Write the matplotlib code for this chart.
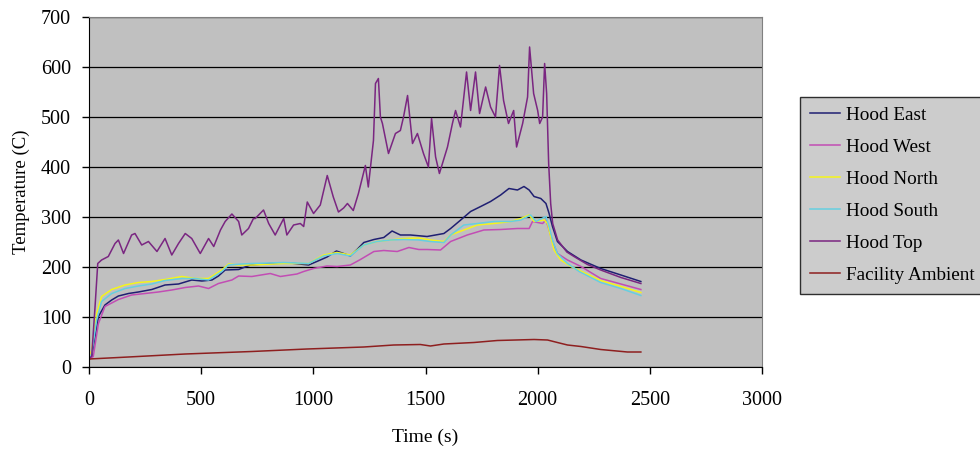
import matplotlib
matplotlib.use('Agg')
import matplotlib.pyplot as plt

plt.rcParams['font.family'] = ['Liberation Serif', 'DejaVu Serif']

# time / temperature pairs
t_east = [0, 12, 27, 42, 71, 101, 131, 176, 220, 280, 339, 399, 458, 503, 548, 577, 607, 667, 719, 808, 897, 979,
          1031, 1061, 1103, 1135, 1165, 1195, 1225, 1270, 1314, 1351, 1388, 1433, 1507, 1582, 1612, 1657, 1701, 1746,
          1790, 1835, 1872, 1910, 1939, 1962, 1984, 2014, 2037, 2051, 2066, 2088, 2133, 2193, 2281, 2371, 2460]
y_east = [15, 21, 61, 101, 124, 134, 142, 147, 150, 155, 164, 166, 174, 172, 174, 182, 194, 195, 204, 207, 208, 204,
          214, 220, 232, 227, 222, 235, 249, 255, 259, 272, 264, 264, 261, 267, 277, 294, 311, 321,
          331, 344, 357, 354, 361, 354, 341, 337, 327, 307, 281, 251, 231, 214, 197, 184, 171]

t_west = [0, 19, 42, 71, 131, 190, 250, 309, 369, 429, 488, 533, 577, 637, 667, 726, 808, 853, 927, 957, 1001, 1061,
          1106, 1165, 1210, 1270, 1314, 1374, 1426, 1470, 1507, 1567, 1612, 1686, 1760, 1835, 1910, 1962, 1977, 2022,
          2037, 2051, 2066, 2088, 2133, 2193, 2281, 2371, 2460]
y_west = [15, 21, 87, 121, 135, 144, 147, 150, 154, 159, 162, 157, 167, 174, 182, 181, 187, 181, 186, 191, 197, 202,
          201, 204, 215, 231, 233, 231, 239, 235, 235, 234, 251, 264, 274, 275, 277, 277, 291, 287,
          294, 274, 251, 227, 214, 201, 177, 166, 155]

t_north = [0, 12, 34, 56, 101, 161, 220, 280, 339, 414, 473, 533, 592, 622, 667, 726, 868, 979, 1046, 1106, 1165,
           1225, 1284, 1344, 1403, 1470, 1522, 1582, 1612, 1671, 1731, 1805, 1880, 1925, 1962, 1984, 2029, 2044,
           2058, 2073, 2103, 2148, 2281, 2371, 2460]
y_north = [15, 34, 107, 141, 155, 164, 169, 171, 175, 181, 177, 177, 194, 206, 204, 204, 207, 207, 224, 229, 224,
           244, 251, 254, 257, 258, 254, 251, 264, 274, 284, 287, 291, 297, 304, 291, 294, 287,
           261, 234, 214, 201, 173, 161, 149]

t_south = [0, 12, 34, 56, 101, 161, 220, 280, 339, 414, 473, 533, 592, 622, 681, 726, 868, 979, 1046, 1106, 1165,
           1225, 1284, 1344, 1403, 1470, 1522, 1582, 1612, 1671, 1731, 1805, 1880, 1925, 1969, 1992, 2037, 2051,
           2066, 2088, 2133, 2185, 2281, 2371, 2460]
y_south = [15, 27, 94, 131, 147, 157, 162, 166, 173, 177, 177, 174, 191, 204, 206, 207, 209, 207, 222, 227, 222,
           244, 251, 254, 255, 254, 251, 249, 264, 284, 287, 291, 291, 294, 304, 291, 301, 281,
           254, 227, 207, 191, 169, 157, 143]

t_top = [0, 12, 27, 39, 56, 86, 116, 131, 154, 190, 205, 235, 265, 303, 339, 369, 399, 429, 458, 496, 533, 556,
         586, 607, 637, 667, 681, 711, 733, 741, 778, 801, 830, 868, 882, 912, 942, 957, 973, 1001, 1031, 1062,
         1089, 1112, 1135, 1152, 1178, 1201, 1232, 1245, 1268, 1277, 1290, 1299, 1308, 1335, 1366, 1388, 1402,
         1420, 1442, 1464, 1491, 1513, 1527, 1545, 1562, 1598, 1620, 1634, 1656, 1683, 1701, 1723, 1741, 1768,
         1790, 1812, 1830, 1848, 1870, 1893, 1906, 1933, 1955, 1964, 1982, 2000, 2009, 2022, 2031, 2040, 2049,
         2058, 2067, 2089, 2130, 2162, 2222, 2281, 2371, 2460]
y_top = [18, 21, 121, 207, 214, 221, 247, 254, 227, 264, 267, 244, 251, 231, 257, 224, 247, 267, 257, 227, 257, 241,
         274, 291, 306, 291, 264, 277, 297, 297, 314, 287, 264, 297, 264, 284, 287, 281, 330, 307, 324, 383,
         340, 310, 318, 327, 313, 347, 403, 360, 453, 567, 577, 500, 487, 427, 467, 473, 500,
         543, 447, 467, 427, 400, 497, 420, 387, 440, 487, 513, 480, 590, 513, 590, 507, 560,
         520, 500, 603, 533, 487, 513, 440, 487, 540, 640, 547, 513, 487, 500, 607, 547, 407,
         327, 287, 254, 230, 221, 205, 194, 179, 167]

t_amb = [0, 176, 429, 726, 972, 1225, 1358, 1477, 1522, 1582, 1716, 1820, 1984, 2044, 2088, 2133, 2193, 2281,
         2400, 2460]
y_amb = [16, 20, 26, 31, 36, 40, 44, 45, 42, 46, 49, 53, 55, 54, 49, 44, 41, 35, 30, 30]

series = [
    ('Hood East', t_east, y_east, '#1f1f72'),
    ('Hood West', t_west, y_west, '#c24db4'),
    ('Hood North', t_north, y_north, '#f5f51a'),
    ('Hood South', t_south, y_south, '#66cfe0'),
    ('Hood Top', t_top, y_top, '#7a2681'),
    ('Facility Ambient', t_amb, y_amb, '#8e1f1f'),
]

fig = plt.figure(figsize=(9.8, 4.49), dpi=100)
ax = fig.add_axes([89 / 980, 1 - 367 / 449, (762 - 89) / 980, (367 - 17) / 449])
ax.set_facecolor('#c0c0c0')

for name, t, y, c in series:
    ax.plot(t, y, color=c, lw=1.1, label=name)

ax.set_xlim(0, 3000)
ax.set_ylim(0, 700)
ax.set_xticks(range(0, 3001, 500))
ax.set_yticks(range(0, 701, 100))
ax.yaxis.grid(True, color='black', lw=0.9)
ax.set_axisbelow(True)
ax.tick_params(direction='out', length=5, width=1, labelsize=14.5, color='black')
ax.tick_params(axis='x', pad=12)
ax.tick_params(axis='y', pad=8)
for s in ['top', 'right']:
    ax.spines[s].set_color('#808080')
for s in ['left', 'bottom']:
    ax.spines[s].set_color('black')

ax.set_xlabel('Time (s)', fontsize=14, labelpad=14)
ax.set_ylabel('Temperature (C)', fontsize=13.5, labelpad=8)

leg = fig.legend(loc='upper left', bbox_to_anchor=(800 / 980, 1 - 97 / 449), fontsize=13.8,
                 frameon=True, fancybox=False, facecolor='#c0c0c0', edgecolor='black',
                 handlelength=1.6, handletextpad=0.3, labelspacing=0.76, borderpad=0.5, borderaxespad=0)
leg.get_frame().set_linewidth(1.0)

fig.savefig('out.png', dpi=100)
